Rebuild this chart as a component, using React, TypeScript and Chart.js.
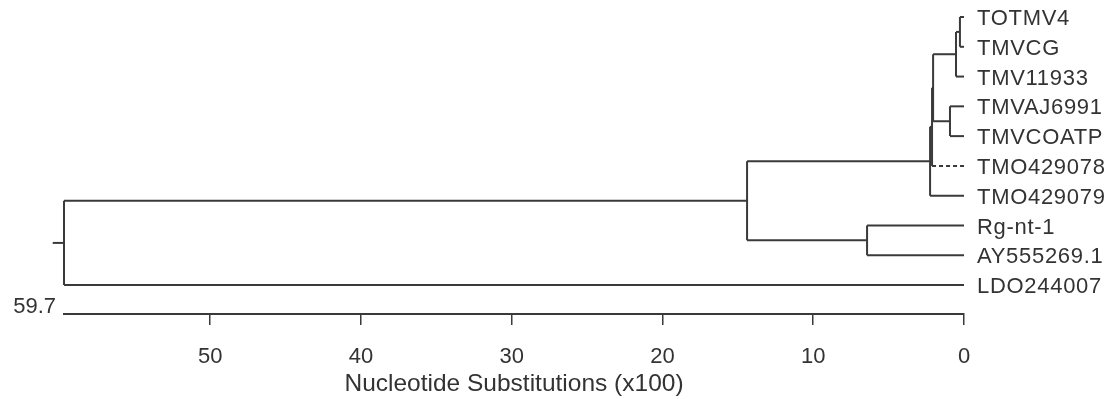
import React, { useEffect, useRef } from "react";
import { Chart, registerables } from "chart.js";

Chart.register(...registerables);

// ---- Data (distances in nucleotide substitutions x100) ----
const leafNames = [
  "TOTMV4",
  "TMVCG",
  "TMV11933",
  "TMVAJ6991",
  "TMVCOATP",
  "TMO429078",
  "TMO429079",
  "Rg-nt-1",
  "AY555269.1",
  "LDO244007",
];
const leafHeights = [0, 0, 0, 0, 0, 0, 0, 0, 0, 0];
// internal nodes: ids 10.. ; children refer to leaf index (0-9) or node id (10+k)
const nodeChildren = [
  [0, 1], // 10
  [10, 2], // 11
  [3, 4], // 12
  [11, 12], // 13
  [13, 5], // 14
  [14, 6], // 15
  [7, 8], // 16
  [15, 16], // 17
  [17, 9], // 18 root
];
const nodeHeights = [0.27, 0.53, 0.93, 2.05, 2.12, 2.25, 6.43, 14.39, 59.7];
const dashedLeaves = [5];
const rootStub = 0.75;
const maxDistance = 59.7;
const tickValues = [0, 10, 20, 30, 40, 50];
const axisTitle = "Nucleotide Substitutions (x100)";

const LINE = "#3a3a3a";
const TEXT = "#333333";
const FONT = "'Liberation Sans', Arial, sans-serif";

function buildSegments() {
  const nLeaf = leafNames.length;
  const yOf: number[] = [];
  const hOf: number[] = [];
  for (let i = 0; i < nLeaf; i++) {
    yOf[i] = i;
    hOf[i] = leafHeights[i];
  }
  nodeChildren.forEach((ch, k) => {
    const id = nLeaf + k;
    const ys = ch.map((c) => yOf[c]);
    yOf[id] = (Math.min(...ys) + Math.max(...ys)) / 2;
    hOf[id] = nodeHeights[k];
  });
  const solid: { x: number; y: number }[][] = [];
  const dashed: { x: number; y: number }[][] = [];
  nodeChildren.forEach((ch, k) => {
    const id = nLeaf + k;
    const ys = ch.map((c) => yOf[c]);
    solid.push([
      { x: hOf[id], y: Math.min(...ys) },
      { x: hOf[id], y: Math.max(...ys) },
    ]);
    ch.forEach((c) => {
      const seg = [
        { x: hOf[id], y: yOf[c] },
        { x: hOf[c], y: yOf[c] },
      ];
      if (c < nLeaf && dashedLeaves.includes(c)) dashed.push(seg);
      else solid.push(seg);
    });
  });
  const rootId = nLeaf + nodeChildren.length - 1;
  solid.push([
    { x: hOf[rootId] + rootStub, y: yOf[rootId] },
    { x: hOf[rootId], y: yOf[rootId] },
  ]);
  return { solid, dashed };
}

const labelPlugin = {
  id: "treeLabels",
  afterDraw(chart: any) {
    const { ctx, scales } = chart;
    const xs = scales.x;
    const ys = scales.y;
    ctx.save();
    ctx.fillStyle = TEXT;
    ctx.font = `22px ${FONT}`;
    ctx.textAlign = "left";
    ctx.textBaseline = "middle";
    try {
      (ctx as any).letterSpacing = "0.7px";
    } catch (e) {}
    leafNames.forEach((name, i) => {
      ctx.fillText(name, xs.getPixelForValue(leafHeights[i]) + 13, ys.getPixelForValue(i) + 2);
    });
    try {
      (ctx as any).letterSpacing = "0px";
    } catch (e) {}
    ctx.textAlign = "right";
    ctx.fillText(String(maxDistance), xs.getPixelForValue(maxDistance) - 8, chart.chartArea.bottom - 7);
    ctx.restore();
  },
};

export default function App() {
  const ref = useRef<HTMLCanvasElement | null>(null);
  useEffect(() => {
    if (!ref.current) return;
    const { solid, dashed } = buildSegments();
    const datasets: any[] = [];
    solid.forEach((seg) =>
      datasets.push({
        data: seg,
        showLine: true,
        borderColor: LINE,
        borderWidth: 2,
        pointRadius: 0,
        clip: false,
      })
    );
    dashed.forEach((seg) =>
      datasets.push({
        data: seg,
        showLine: true,
        borderColor: LINE,
        borderWidth: 2,
        borderDash: [4, 3],
        pointRadius: 0,
        clip: false,
      })
    );
    const chart = new Chart(ref.current, {
      type: "scatter",
      data: { datasets },
      plugins: [labelPlugin],
      options: {
        animation: false,
        responsive: true,
        maintainAspectRatio: false,
        layout: { padding: { left: 64, right: 148, top: 0, bottom: 0 } },
        plugins: { legend: { display: false }, tooltip: { enabled: false } },
        scales: {
          x: {
            type: "linear",
            reverse: true,
            min: 0,
            max: maxDistance,
            afterFit: (s: any) => {
              s.height = 85;
            },
            afterBuildTicks: (s: any) => {
              s.ticks = tickValues.map((v) => ({ value: v }));
            },
            ticks: {
              includeBounds: false,
              stepSize: 10,
              padding: 19,
              color: TEXT,
              font: { family: FONT, size: 22 },
              maxRotation: 0,
            },
            grid: {
              display: true,
              drawOnChartArea: false,
              drawTicks: true,
              tickLength: 11,
              color: LINE,
              lineWidth: 1.5,
            },
            border: { display: true, color: LINE, width: 2 },
            title: {
              display: true,
              text: axisTitle,
              color: TEXT,
              font: { family: FONT, size: 24.5 },
              padding: { top: 0, bottom: 0 },
            },
          },
          y: {
            type: "linear",
            display: false,
            reverse: true,
            min: -0.571,
            max: 9.973,
          },
        },
      },
    });
    return () => chart.destroy();
  }, []);
  return (
    <div style={{ position: "absolute", left: 0, top: 0, width: 1112, height: 399, background: "#fff" }}>
      <canvas ref={ref} />
    </div>
  );
}
